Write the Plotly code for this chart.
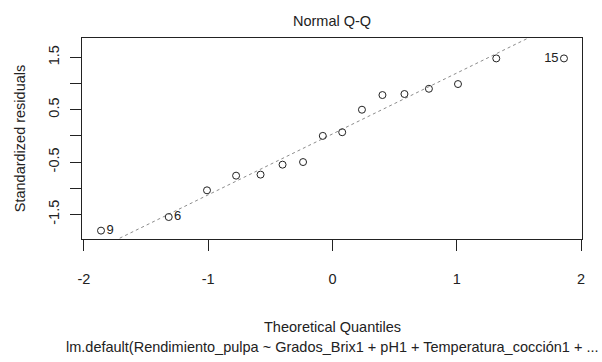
import plotly.graph_objects as go

# Data
theoretical = [-1.863, -1.318, -1.010, -0.776, -0.579, -0.402, -0.237, -0.078,
               0.078, 0.237, 0.402, 0.579, 0.776, 1.010, 1.318, 1.863]
std_resid = [-1.81, -1.55, -1.04, -0.76, -0.74, -0.55, -0.50, 0.00,
             0.07, 0.50, 0.78, 0.80, 0.90, 0.99, 1.48, 1.48]
point_labels = ["9", "6", "", "", "", "", "", "", "", "", "", "", "", "", "", "15"]
line_slope = 1.163
line_intercept = 0.037
x_ticks = [-2, -1, 0, 1, 2]
y_ticks = [-1.5, -1.0, -0.5, 0.0, 0.5, 1.0, 1.5]
y_ticktext = ["-1.5", "", "-0.5", "", "0.5", "", "1.5"]

x_range = [-2.016, 2.008]
y_range = [-1.97, 1.87]

FONT = "Liberation Sans, Arial, sans-serif"
INK = "#222222"
FS = 14.5

fig = go.Figure()

# qqline
lx = [x_range[0], x_range[1]]
ly = [line_intercept + line_slope * v for v in lx]
fig.add_trace(go.Scatter(x=lx, y=ly, mode="lines",
                         line=dict(color="#8c8c8c", width=1, dash="dot"),
                         hoverinfo="skip", showlegend=False))

# points with labels
positions = ["middle right" if x < 0 else "middle left" for x in theoretical]
fig.add_trace(go.Scatter(x=theoretical, y=std_resid, mode="markers+text",
                         text=point_labels, textposition=positions,
                         textfont=dict(family=FONT, size=13, color=INK),
                         marker=dict(symbol="circle-open", size=7,
                                     line=dict(color=INK, width=1), color=INK),
                         showlegend=False))

axis_common = dict(showline=True, mirror=True, linecolor=INK, linewidth=1,
                   showgrid=False, zeroline=False, ticks="outside",
                   ticklen=11, tickcolor=INK, tickwidth=1,
                   tickfont=dict(family=FONT, size=FS, color=INK))

fig.update_layout(
    width=602, height=362,
    margin=dict(l=82, r=20, t=38, b=123),
    paper_bgcolor="white", plot_bgcolor="white",
    font=dict(family=FONT, color=INK),
    xaxis=dict(range=x_range, tickvals=x_ticks,
               ticktext=[str(v) for v in x_ticks],
               ticklabelstandoff=16, **axis_common),
    yaxis=dict(range=y_range, tickvals=y_ticks, ticktext=y_ticktext,
               tickangle=-90, ticklabelstandoff=5,
               title=dict(text="Standardized residuals",
                          font=dict(family=FONT, size=FS, color=INK),
                          standoff=17),
               **axis_common),
    annotations=[
        dict(text="Normal Q-Q", xref="paper", yref="paper", x=0.5, y=1,
             yanchor="middle", yshift=17, showarrow=False,
             font=dict(family=FONT, size=FS, color=INK)),
        dict(text="Theoretical Quantiles", xref="paper", yref="paper", x=0.5, y=0,
             yanchor="middle", yshift=-88, showarrow=False,
             font=dict(family=FONT, size=FS, color=INK)),
        dict(text="lm.default(Rendimiento_pulpa ~ Grados_Brix1 + pH1 + Temperatura_cocción1 + ...",
             xref="paper", yref="paper", x=0.5, y=0,
             yanchor="middle", yshift=-108, showarrow=False,
             font=dict(family=FONT, size=FS, color=INK)),
    ],
)

fig.write_html("out.html")
